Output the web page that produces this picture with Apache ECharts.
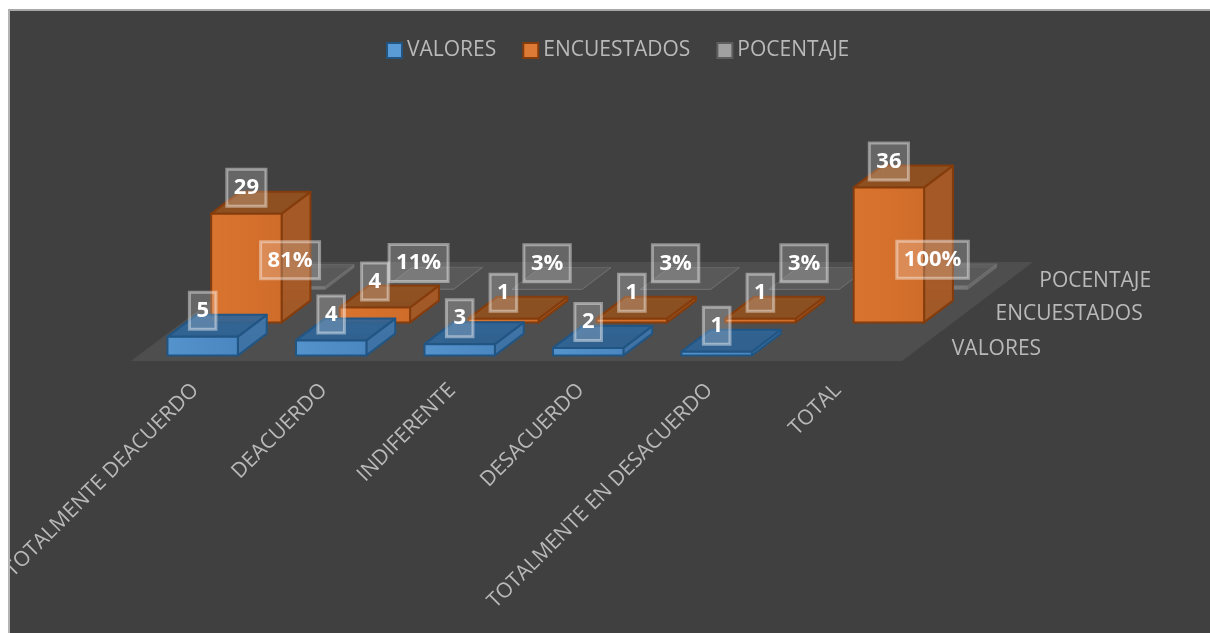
<!DOCTYPE html>
<html>
<head>
<meta charset="utf-8">
<script src="https://cdn.jsdelivr.net/npm/echarts@6/dist/echarts.min.js"></script>
<style>
  html, body { margin: 0; padding: 0; background: #fff; overflow: hidden; }
  #frame { position: absolute; left: 8px; top: 9px; width: 1202px; height: 624px; box-sizing: border-box;
           border-left: 2px solid #b4b4b4; border-top: 2px solid #a8a8a8; background: #404040; overflow: hidden; }
  #chart { width: 1200px; height: 622px; }
</style>
</head>
<body>
<div id="frame"><div id="chart"></div></div>
<script>
// Survey results: three rows of boxes standing on a receding floor.
const categories = ['TOTALMENTE DEACUERDO', 'DEACUERDO', 'INDIFERENTE', 'DESACUERDO', 'TOTALMENTE EN DESACUERDO', 'TOTAL'];
const valores = [5, 4, 3, 2, 1];
const encuestados = [29, 4, 1, 1, 1, 36];
const pocentaje = [0.81, 0.11, 0.03, 0.03, 0.03, 1];
const rowNames = ['VALORES', 'ENCUESTADOS', 'POCENTAJE'];

const FONT = '"Open Sans", sans-serif';
const TEXT = '#b9b9b9';
// Screen shift for one row of depth.
const DEPTH_X = 43.7;
const DEPTH_Y = -33;
const BAR_RATIO = 0.548;
const DEPTH_GAP = 0.17;

const palettes = [
  { legend: '#5b9bd5', front: ['#5593cd', '#4a86bf'], side: 'rgba(64,118,172,0.93)', top: 'rgba(46,100,152,0.88)', back: 'rgba(60,110,160,0.35)', edge: '#215583', width: 2 },
  { legend: '#dd7a35', front: ['#d9742f', '#d06c2a'], side: 'rgba(166,90,38,0.95)', top: 'rgba(144,80,30,0.92)', back: 'rgba(190,100,40,0.4)', edge: '#843c0c', width: 2 },
  { legend: '#a0a0a0', front: ['#858585', '#777777'], side: 'rgba(150,150,150,0.4)', top: 'rgba(150,150,150,0.17)', back: 'rgba(150,150,150,0.08)', edge: 'rgba(120,120,120,0.35)', width: 1 }
];

function poly(points, fill, stroke, width, z2) {
  return {
    type: 'polygon', z2, silent: true,
    shape: { points },
    style: { fill, stroke, lineWidth: width, lineJoin: 'round' }
  };
}

function boxItem(slot, format) {
  return function (params, api) {
    const cat = api.value(0);
    const val = api.value(1);
    const band = api.size([1, 0])[0];
    const base = api.coord([cat, 0]);
    const tip = api.coord([cat, val]);
    const w = band * BAR_RATIO;
    const x0 = base[0] - w / 2;
    const x1 = base[0] + w / 2;
    const at = (x, y, d) => [x + d * DEPTH_X, y + d * DEPTH_Y];
    const d0 = slot + DEPTH_GAP;
    const d1 = slot + 1 - DEPTH_GAP;
    const yb = base[1];
    const yt = tip[1];
    const p = palettes[slot];
    const z = slot === 0 ? 30 : slot === 1 ? 20 : 10;
    const children = [
      // hidden faces show faintly through the translucent boxes
      poly([at(x0, yb, d1), at(x1, yb, d1), at(x1, yt, d1), at(x0, yt, d1)], p.back, p.back, 1, z),
      poly([at(x0, yb, d0), at(x0, yb, d1), at(x0, yt, d1), at(x0, yt, d0)], p.back, p.back, 1, z),
      poly([at(x1, yb, d0), at(x1, yb, d1), at(x1, yt, d1), at(x1, yt, d0)], p.side, p.edge, p.width, z + 1),
      poly([at(x0, yt, d0), at(x1, yt, d0), at(x1, yt, d1), at(x0, yt, d1)], p.top, p.edge, p.width, z + 1),
      poly([at(x0, yb, d0), at(x1, yb, d0), at(x1, yt, d0), at(x0, yt, d0)], {
        type: 'linear', x: 0, y: 0, x2: 1, y2: 0,
        colorStops: [{ offset: 0, color: p.front[0] }, { offset: 1, color: p.front[1] }]
      }, p.edge, p.width, z + 2)
    ];
    const front = at(base[0], yt, d0);
    children.push({
      type: 'text', z2: 100, silent: true,
      x: front[0], y: front[1] - 26,
      style: {
        text: format(val), fill: '#fff', font: 'bold 22px ' + FONT,
        align: 'center', verticalAlign: 'middle', lineHeight: 37, padding: [0, 7],
        backgroundColor: 'rgba(255,255,255,0.2)', borderColor: 'rgba(255,255,255,0.42)', borderWidth: 1.5,
        boxShadowBlur: 20, boxShadowColor: 'rgba(0,0,0,0.3)'
      }
    });
    if (cat === categories.length - 1 || (slot === 0 && cat === valores.length - 1)) {
      // row name printed past the right edge of the floor
      const lastBase = api.coord([categories.length - 1, 0]);
      const edge = at(lastBase[0] + band / 2, yb, slot + 0.5);
      children.push({
        type: 'text', z2: 5, silent: true,
        x: edge[0] + 28, y: edge[1] + (slot === 0 ? 5 : 3),
        style: { text: rowNames[slot], fill: TEXT, font: '21px ' + FONT, align: 'left', verticalAlign: 'middle' }
      });
    }
    return { type: 'group', children };
  };
}

function floorItem(params, api) {
  const band = api.size([1, 0])[0];
  const first = api.coord([0, 0]);
  const last = api.coord([categories.length - 1, 0]);
  const l = first[0] - band / 2;
  const r = last[0] + band / 2;
  const y = first[1];
  const dx = rowNames.length * DEPTH_X;
  const dy = rowNames.length * DEPTH_Y;
  return {
    type: 'group',
    children: [{
      type: 'polygon', z2: 1, silent: true,
      shape: { points: [[l, y], [r, y], [r + dx, y + dy], [l + dx, y + dy]] },
      style: { fill: '#4f4e4e' }
    }]
  };
}

function boxSeries(name, values, slot, format) {
  return {
    type: 'custom', name, silent: true, animation: false, clip: false,
    renderItem: boxItem(slot, format),
    encode: { x: 0, y: 1 },
    itemStyle: { color: palettes[slot].legend },
    data: values.map((v, i) => [i, v])
  };
}

const plain = v => String(v);
const percent = v => Math.round(v * 100) + '%';

const chart = echarts.init(document.getElementById('chart'), null, { renderer: 'canvas' });
chart.setOption({
  backgroundColor: '#404040',
  animation: false,
  textStyle: { fontFamily: FONT },
  legend: {
    left: 376, top: 29, padding: 0, itemWidth: 15, itemHeight: 15, itemGap: 26, icon: 'rect',
    selectedMode: false,
    textStyle: { color: TEXT, fontSize: 21, fontFamily: FONT },
    data: rowNames.map((name, i) => ({
      name, itemStyle: { color: palettes[i].legend, borderColor: ['#215583', '#843c0c', '#5e5e5e'][i], borderWidth: 2 }
    }))
  },
  grid: { left: 121, top: 200, width: 771, height: 150, outerBoundsMode: 'none' },
  xAxis: {
    type: 'category', data: categories,
    axisLine: { show: false }, axisTick: { show: false }, splitLine: { show: false },
    axisLabel: { interval: 0, rotate: 45, margin: 26, color: TEXT, fontSize: 21, fontFamily: FONT, hideOverlap: false }
  },
  yAxis: { type: 'value', min: 0, max: 40, show: false },
  series: [
    { type: 'custom', name: 'piso', silent: true, animation: false, clip: false, renderItem: floorItem, encode: { x: 0, y: 1 }, data: [[0, 0]] },
    boxSeries(rowNames[2], pocentaje, 2, percent),
    boxSeries(rowNames[1], encuestados, 1, plain),
    boxSeries(rowNames[0], valores, 0, plain)
  ]
});
</script>
</body>
</html>
